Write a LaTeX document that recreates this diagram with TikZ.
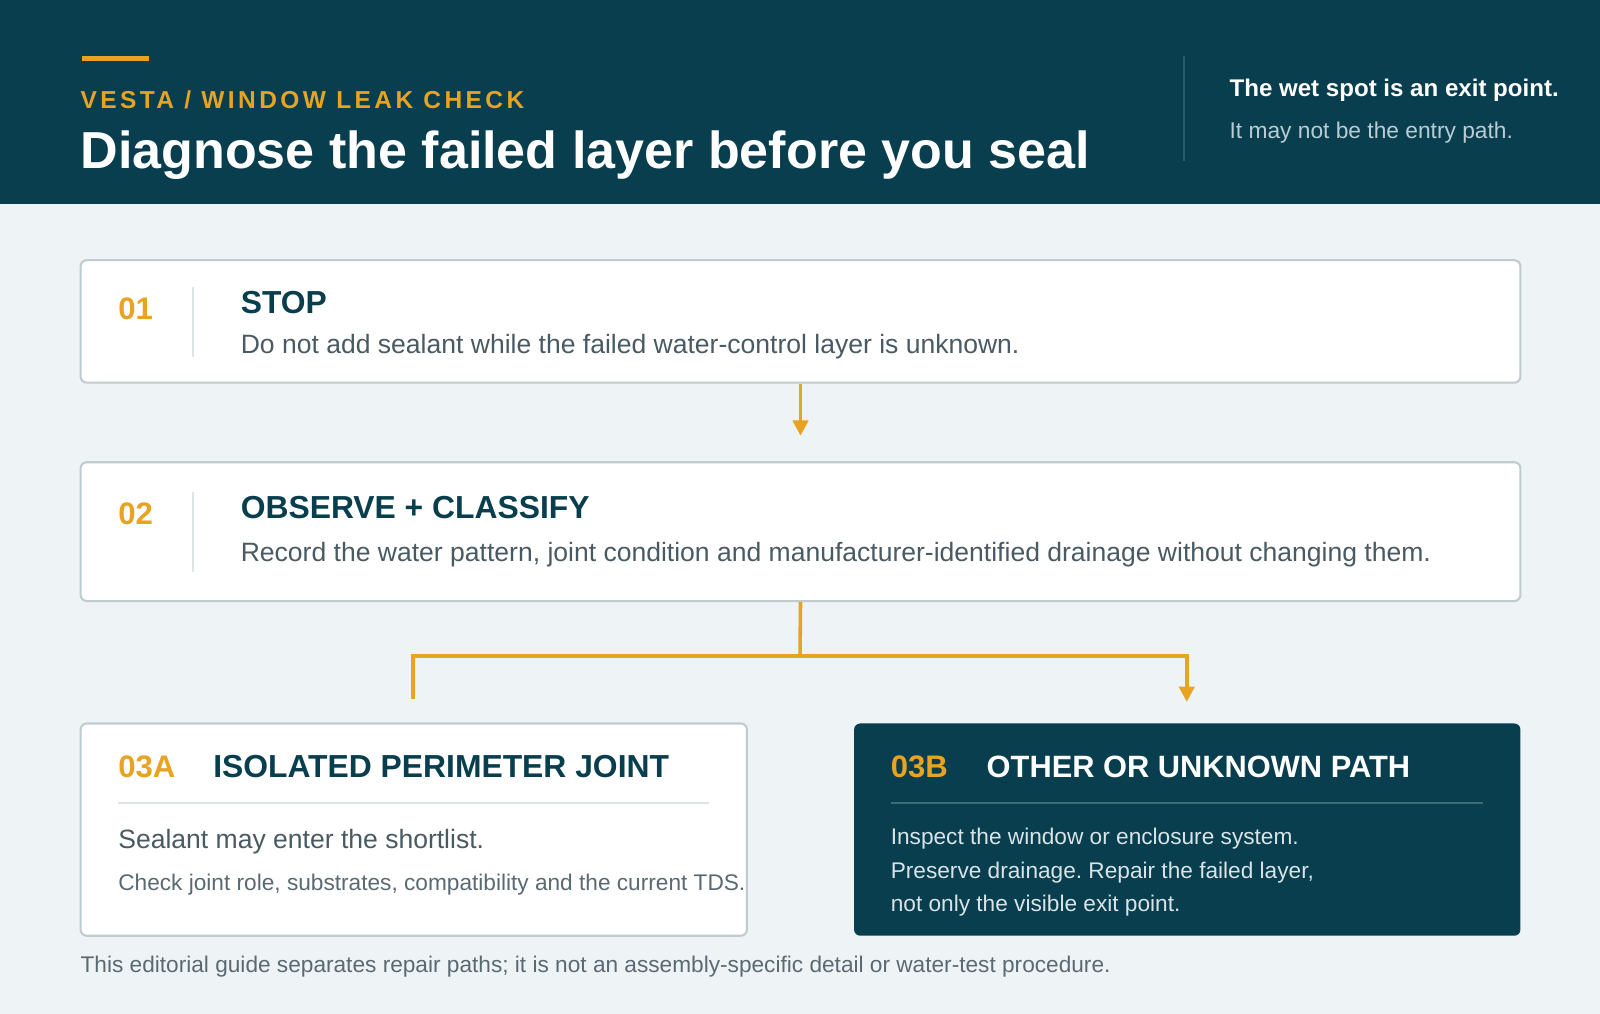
\documentclass[tikz,border=0pt]{standalone}
\usepackage{fontspec}
\setmainfont{Liberation Sans}
\usetikzlibrary{arrows.meta}
\definecolor{hdr}{RGB}{8,62,78}
\definecolor{bgc}{RGB}{238,243,246}
\definecolor{orng}{RGB}{232,163,35}
\definecolor{cardline}{RGB}{191,203,206}
\definecolor{txtgray}{RGB}{74,90,99}
\definecolor{txtgray2}{RGB}{90,106,114}
\definecolor{innerdiv}{RGB}{221,227,230}
\definecolor{hdrdiv}{RGB}{45,90,104}
\definecolor{lighttxt}{RGB}{185,205,213}
\definecolor{darktxt}{RGB}{216,228,232}
\definecolor{darkdiv}{RGB}{63,106,118}
\newcommand{\fsz}[1]{\fontsize{#1}{#1}\selectfont}
\frenchspacing
\begin{document}
\begin{tikzpicture}[x=1pt,y=-1pt,
  card/.style={draw=cardline, line width=2pt, fill=white, rounded corners=6pt, inner sep=0pt},
  darkcard/.style={fill=hdr, rounded corners=6pt, inner sep=0pt},
  txt/.style={anchor=base west, inner sep=0pt, outer sep=0pt, execute at begin node=\frenchspacing},
  stepnum/.style={txt, text=orng, font=\bfseries\fsz{30.5}},
  steptitle/.style={txt, text=hdr, font=\bfseries\fsz{31.2}},
  stepdesc/.style={txt, text=txtgray, font=\fsz{26}},
  small/.style={txt, font=\fsz{22.2}},
  conn/.style={draw=orng, line width=3.5pt},
  tip/.style={-{Triangle[width=15pt,length=15pt]}}
]
\useasboundingbox (0,0) rectangle (1568,993.7);
\fill[bgc] (0,0) rectangle (1568,993.7);
\fill[hdr] (0,0) rectangle (1568,200);
% header
\fill[orng] (80,55) rectangle (146,60);
\node[txt, text=orng, font=\bfseries\fsz{24}\addfontfeature{LetterSpace=14}] (kicker) at (79,106) {VESTA / WINDOW LEAK CHECK};
\node[txt, text=white, font=\bfseries\fsz{51}] (title) at (79,165) {Diagnose the failed layer before you seal};
\draw[hdrdiv, line width=2pt] (1160,55) -- (1160,158);
\node[txt, text=white, font=\bfseries\fsz{23.6}] (wet) at (1205,95) {The wet spot is an exit point.};
\node[txt, text=lighttxt, font=\fsz{22.3}] (entry) at (1205,136) {It may not be the entry path.};
% boxes
\node[card, minimum width=1411pt, minimum height=120pt] (box1) at (784.5,315) {};
\node[card, minimum width=1411pt, minimum height=136pt] (box2) at (784.5,521) {};
\node[card, minimum width=653pt, minimum height=208pt] (box3a) at (405.5,813) {};
\node[darkcard, minimum width=653pt, minimum height=208pt] (box3b) at (1163.5,813) {};
% box 1 content
\node[stepnum] (n1) at (116,313) {01};
\draw[innerdiv, line width=1.5pt] (189,281) -- (189,350);
\node[steptitle] (t1) at (236,307) {STOP};
\node[stepdesc] (d1) at (236,346) {Do not add sealant while the failed water-control layer is unknown.};
% box 2 content
\node[stepnum] (n2) at (116,514) {02};
\draw[innerdiv, line width=1.5pt] (189,482) -- (189,561);
\node[steptitle] (t2) at (236,508) {OBSERVE + CLASSIFY};
\node[stepdesc] (d2) at (236,550) {Record the water pattern, joint condition and manufacturer-identified drainage without changing them.};
% box 3a content
\node[stepnum] (n3a) at (116,762) {03A};
\node[steptitle] (t3a) at (209,762) {ISOLATED PERIMETER JOINT};
\draw[innerdiv, line width=1.5pt] (116,787) -- (695,787);
\node[stepdesc] (d3a) at (116,832) {Sealant may enter the shortlist.};
\node[small, text=txtgray2] (e3a) at (116,873) {Check joint role, substrates, compatibility and the current TDS.};
% box 3b content
\node[stepnum] (n3b) at (873,762) {03B};
\node[steptitle, text=white, font=\bfseries\fsz{30.2}] (t3b) at (967,762) {OTHER OR UNKNOWN PATH};
\draw[darkdiv, line width=1.5pt] (873,787) -- (1453,787);
\node[small, text=darktxt] (l1) at (873,828) {Inspect the window or enclosure system.};
\node[small, text=darktxt] (l2) at (873,861) {Preserve drainage. Repair the failed layer,};
\node[small, text=darktxt] (l3) at (873,893) {not only the visible exit point.};
% footer
\node[small, text=txtgray2] (foot) at (79,953) {This editorial guide separates repair paths; it is not an assembly-specific detail or water-test procedure.};
% connectors
\coordinate (j) at (784,643);
\coordinate (la) at (405,643);
\coordinate (rb) at (1163,643);
\draw[conn, tip] (box1.south) -- ([yshift=25pt]box2.north);
\draw[conn] (box2.south) -- (j);
\draw[conn, line width=4.5pt] ([xshift=-1.75pt]la) -- ([xshift=1.75pt]rb);
\draw[conn] ([yshift=-2pt]la) -- ([yshift=23pt]box3a.north -| la);
\draw[conn, tip] ([yshift=-2pt]rb) -- ([yshift=21pt]box3b.north -| rb);
\end{tikzpicture}
\end{document}
